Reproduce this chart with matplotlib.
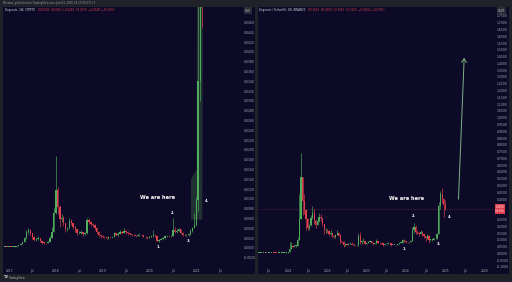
import matplotlib
matplotlib.use('Agg')
import matplotlib.pyplot as plt
from matplotlib.patches import Rectangle
from matplotlib.transforms import blended_transform_factory
import pandas as pd

W, H = 512, 282

# Left: Dogecoin 2016-2021 cycle, semi-monthly candles (close / high / low)
left_start = '2016-11-01'
left_open0 = 0.00022
left_close = [
    0.00023, 0.00022, 0.00022, 0.00021,
    0.00022, 0.00021, 0.00024, 0.00029, 0.00040, 0.00055, 0.00085, 0.00120, 0.00195, 0.00320, 0.00370, 0.00300,
    0.00220, 0.00170, 0.00180, 0.00200, 0.00150, 0.00110, 0.00100, 0.00095, 0.00130, 0.00210, 0.00330, 0.00720,
    0.01180, 0.00840, 0.00600, 0.00620, 0.00500, 0.00380, 0.00400, 0.00560, 0.00520, 0.00420, 0.00380, 0.00300,
    0.00310, 0.00320, 0.00280, 0.00300, 0.00580, 0.00540, 0.00490, 0.00460, 0.00400, 0.00330, 0.00260, 0.00240,
    0.00230, 0.00220, 0.00210, 0.00220, 0.00215, 0.00220, 0.00300, 0.00270, 0.00290, 0.00320, 0.00310, 0.00350,
    0.00320, 0.00300, 0.00280, 0.00270, 0.00260, 0.00250, 0.00260, 0.00270, 0.00260, 0.00230, 0.00220, 0.00210,
    0.00230, 0.00240, 0.00270, 0.00240, 0.00140, 0.00170, 0.00190, 0.00200, 0.00240, 0.00250, 0.00240, 0.00250,
    0.00370, 0.00330, 0.00350, 0.00380, 0.00310, 0.00270, 0.00260, 0.00260, 0.00280, 0.00340, 0.00410, 0.00470,
    0.00980, 0.03400, 0.06000, 0.05000,
]
left_high = [
    0.00025, 0.00024, 0.00023, 0.00023,
    0.00024, 0.00023, 0.00026, 0.00032, 0.00048, 0.00070, 0.00110, 0.00150, 0.00230, 0.00360, 0.00410, 0.00380,
    0.00310, 0.00240, 0.00210, 0.00240, 0.00210, 0.00160, 0.00120, 0.00110, 0.00150, 0.00240, 0.00420, 0.00820,
    0.01880, 0.01250, 0.00880, 0.00700, 0.00650, 0.00520, 0.00430, 0.00620, 0.00600, 0.00520, 0.00440, 0.00390,
    0.00340, 0.00360, 0.00330, 0.00330, 0.00620, 0.00610, 0.00560, 0.00500, 0.00480, 0.00420, 0.00340, 0.00290,
    0.00260, 0.00250, 0.00230, 0.00240, 0.00235, 0.00240, 0.00330, 0.00310, 0.00320, 0.00360, 0.00340, 0.00410,
    0.00370, 0.00340, 0.00310, 0.00290, 0.00280, 0.00270, 0.00280, 0.00300, 0.00290, 0.00270, 0.00240, 0.00230,
    0.00250, 0.00260, 0.00370, 0.00290, 0.00250, 0.00190, 0.00210, 0.00220, 0.00270, 0.00270, 0.00260, 0.00270,
    0.00620, 0.00420, 0.00380, 0.00400, 0.00380, 0.00320, 0.00280, 0.00280, 0.00300, 0.00380, 0.00430, 0.00720,
    0.01050, 0.08700, 0.08700, 0.07000,
]
left_low = [
    0.00021, 0.00021, 0.00020, 0.00020,
    0.00020, 0.00020, 0.00021, 0.00024, 0.00029, 0.00038, 0.00052, 0.00080, 0.00115, 0.00190, 0.00280, 0.00250,
    0.00190, 0.00140, 0.00150, 0.00165, 0.00120, 0.00090, 0.00085, 0.00080, 0.00092, 0.00125, 0.00200, 0.00320,
    0.00700, 0.00700, 0.00420, 0.00540, 0.00440, 0.00320, 0.00340, 0.00390, 0.00460, 0.00390, 0.00330, 0.00270,
    0.00280, 0.00290, 0.00250, 0.00260, 0.00290, 0.00480, 0.00440, 0.00420, 0.00360, 0.00290, 0.00220, 0.00210,
    0.00200, 0.00200, 0.00190, 0.00190, 0.00200, 0.00200, 0.00220, 0.00250, 0.00250, 0.00280, 0.00290, 0.00300,
    0.00280, 0.00270, 0.00260, 0.00250, 0.00240, 0.00230, 0.00240, 0.00250, 0.00240, 0.00220, 0.00200, 0.00190,
    0.00200, 0.00220, 0.00230, 0.00220, 0.00120, 0.00130, 0.00160, 0.00180, 0.00190, 0.00230, 0.00220, 0.00230,
    0.00240, 0.00300, 0.00310, 0.00330, 0.00280, 0.00250, 0.00240, 0.00240, 0.00250, 0.00270, 0.00320, 0.00400,
    0.00450, 0.00750, 0.03000, 0.04500,
]

# Right: Dogecoin / TetherUS 2020-2025, semi-monthly candles
right_start = '2020-04-01'
right_open0 = 0.0018
right_close = [
    0.0020, 0.0022, 0.0025, 0.0025, 0.0025, 0.0024, 0.0032, 0.0034, 0.0035,
    0.0033, 0.0028, 0.0026, 0.0026, 0.0026, 0.0028, 0.0034, 0.0040, 0.0047,
    0.0098, 0.0340, 0.0580, 0.0500, 0.0550, 0.0560, 0.1000, 0.2500, 0.5650, 0.3850, 0.3200, 0.2500,
    0.1900, 0.2100, 0.2600, 0.3000, 0.2400, 0.2100, 0.2400, 0.2700, 0.2600, 0.2200, 0.1700, 0.1700,
    0.1650, 0.1400, 0.1500, 0.1300, 0.1200, 0.1350, 0.1500, 0.1300, 0.0900, 0.0850, 0.0650, 0.0670,
    0.0650, 0.0700, 0.0720, 0.0650, 0.0620, 0.0600, 0.0600, 0.1250, 0.0850, 0.0900, 0.0950, 0.0700,
    0.0750, 0.0850, 0.0900, 0.0800, 0.0700, 0.0740, 0.0900, 0.0800, 0.0750, 0.0730, 0.0620, 0.0670,
    0.0680, 0.0760, 0.0730, 0.0630, 0.0620, 0.0620, 0.0600, 0.0680, 0.0780, 0.0800, 0.0980, 0.0900,
    0.0820, 0.0810, 0.0820, 0.0900, 0.1750, 0.1950, 0.1600, 0.1500, 0.1450, 0.1600, 0.1400, 0.1250,
    0.1100, 0.1300, 0.1000, 0.1000, 0.1000, 0.1100, 0.1100, 0.1400, 0.3500, 0.4400, 0.4000, 0.3600,
    0.3250,
]
right_high = [
    0.0022, 0.0024, 0.0027, 0.0027, 0.0026, 0.0026, 0.0052, 0.0040, 0.0038,
    0.0037, 0.0034, 0.0029, 0.0028, 0.0027, 0.0030, 0.0038, 0.0043, 0.0072,
    0.0105, 0.0870, 0.0870, 0.0620, 0.0620, 0.0640, 0.1200, 0.4400, 0.7370, 0.5650, 0.4400, 0.3300,
    0.2600, 0.2200, 0.2800, 0.3500, 0.3300, 0.2500, 0.2600, 0.3000, 0.2900, 0.2500, 0.2200, 0.1900,
    0.1800, 0.1750, 0.1700, 0.1500, 0.1350, 0.1450, 0.1700, 0.1550, 0.1400, 0.0950, 0.0900, 0.0750,
    0.0720, 0.0750, 0.0800, 0.0820, 0.0680, 0.0650, 0.0640, 0.1530, 0.1550, 0.1000, 0.1100, 0.0950,
    0.0800, 0.0900, 0.0970, 0.0900, 0.0820, 0.0780, 0.1050, 0.0920, 0.0810, 0.0760, 0.0740, 0.0700,
    0.0720, 0.0820, 0.0790, 0.0740, 0.0650, 0.0650, 0.0640, 0.0720, 0.0800, 0.0840, 0.1070, 0.1000,
    0.0920, 0.0850, 0.0860, 0.0960, 0.1950, 0.2250, 0.2100, 0.1700, 0.1600, 0.1750, 0.1650, 0.1450,
    0.1250, 0.1450, 0.1350, 0.1080, 0.1050, 0.1150, 0.1200, 0.1500, 0.3800, 0.4600, 0.4800, 0.4100,
    0.3950,
]
right_low = [
    0.0018, 0.0019, 0.0021, 0.0023, 0.0023, 0.0023, 0.0024, 0.0030, 0.0031,
    0.0030, 0.0026, 0.0025, 0.0025, 0.0025, 0.0025, 0.0027, 0.0032, 0.0040,
    0.0045, 0.0075, 0.0300, 0.0450, 0.0460, 0.0500, 0.0560, 0.1000, 0.2500, 0.2800, 0.2900, 0.1700,
    0.1750, 0.1700, 0.2000, 0.2500, 0.2200, 0.1900, 0.2100, 0.2300, 0.2400, 0.2000, 0.1400, 0.1500,
    0.1500, 0.1250, 0.1350, 0.1200, 0.1100, 0.1150, 0.1350, 0.1250, 0.0700, 0.0780, 0.0500, 0.0550,
    0.0600, 0.0620, 0.0680, 0.0600, 0.0580, 0.0570, 0.0570, 0.0580, 0.0700, 0.0720, 0.0850, 0.0680,
    0.0680, 0.0740, 0.0820, 0.0760, 0.0640, 0.0680, 0.0720, 0.0760, 0.0700, 0.0700, 0.0570, 0.0590,
    0.0640, 0.0680, 0.0690, 0.0580, 0.0590, 0.0600, 0.0580, 0.0590, 0.0670, 0.0740, 0.0790, 0.0860,
    0.0760, 0.0750, 0.0780, 0.0820, 0.0900, 0.1500, 0.1400, 0.1400, 0.1300, 0.1450, 0.1300, 0.1150,
    0.0900, 0.1080, 0.0800, 0.0950, 0.0920, 0.0980, 0.1050, 0.1080, 0.1400, 0.3300, 0.3700, 0.2650,
    0.3200,
]

# annotations (data coordinates)
left_marks = ['1.', '2.', '3.', '4.']
left_mark_dates = ['2020-03-08', '2020-07-03', '2020-11-05', '2021-03-25']
left_mark_vals = [0.0002, 0.0071, 0.0014, 0.0096]
left_note = ('2020-03-01', 0.0104)
left_glow_dates = ['2020-11-20', '2021-02-16', '2021-02-22', '2021-01-06', '2021-01-03', '2020-11-20']
left_glow_vals = [0.0058, 0.0058, 0.06, 0.06, 0.016, 0.0140]

right_marks = ['1.', '2.', '3.', '4.']
right_mark_dates = ['2023-12-22', '2024-03-15', '2024-11-03', '2025-02-14']
right_mark_vals = [0.032, 0.276, 0.069, 0.268]
right_note = ('2024-01-10', 0.408)
arrow_from = ('2025-05-01', 0.379)
arrow_to = ('2025-06-25', 1.462)

left_yticks = [round(-0.002 + 0.002 * i, 4) for i in range(25)]
right_yticks = [round(-0.10 + 0.05 * i, 2) for i in range(38)]

GREEN = '#4fae5c'
RED = '#e0404e'
NAVY = '#0c0a26'
GRAY = '#202129'
TXT = '#a9acb6'


def fig_rect(x0, y0, x1, y1):
    return [x0 / W, 1 - y1 / H, (x1 - x0) / W, (y1 - y0) / H]


def candles(ax, start, open0, close, high, low, min_h):
    dates = pd.date_range(start, periods=len(close), freq='SMS')
    opens = [open0] + close[:-1]
    cols = [GREEN if c >= o else RED for o, c in zip(opens, close)]
    bottoms = [min(o, c) for o, c in zip(opens, close)]
    heights = [max(abs(c - o), min_h) for o, c in zip(opens, close)]
    ax.vlines(dates, low, high, colors=cols, lw=0.45, zorder=3)
    ax.bar(dates, heights, bottom=bottoms, width=11, color=cols, lw=0, zorder=4)
    return dates


def style(ax, xlim, ylim, yticks, ylabels, ticks, labels):
    ax.set_facecolor(NAVY)
    ax.set_xlim(pd.Timestamp(xlim[0]), pd.Timestamp(xlim[1]))
    ax.set_ylim(*ylim)
    for s in ax.spines.values():
        s.set_visible(False)
    ax.yaxis.tick_right()
    ax.set_yticks(yticks)
    ax.set_yticklabels(ylabels)
    ax.set_xticks([pd.Timestamp(t) for t in ticks])
    ax.set_xticklabels(labels)
    ax.tick_params(axis='y', length=0, pad=2.2, labelsize=2.2, labelcolor=TXT)
    ax.tick_params(axis='x', length=0, pad=1.6, labelsize=2.2, labelcolor=TXT)


def legend(fig, ax, title, values):
    # title in light text, OHLC values in red right after it
    t = ax.text(0.005, 0.988, title, transform=ax.transAxes, fontsize=1.9, color='#d1d4dc', va='center')
    fig.canvas.draw()
    bb = t.get_window_extent()
    x = ax.transAxes.inverted().transform((bb.x1 + 3, bb.y0))[0]
    ax.text(x, 0.988, values, transform=ax.transAxes, fontsize=1.9, color=RED, va='center')


fig = plt.figure(figsize=(W / 100, H / 100), dpi=100)
fig.patch.set_facecolor(GRAY)

# panel backgrounds
for x0, x1 in [(3, 255), (258, 509)]:
    r = fig_rect(x0, 7, x1, 274)
    fig.add_artist(Rectangle((r[0], r[1]), r[2], r[3], transform=fig.transFigure,
                             facecolor=NAVY, edgecolor='none', zorder=0))

fig.text(3 / W, 1 - 3 / H, 'Bitcoinz_published on TradingView.com, Jan 03, 2025 18:27:09 UTC+1',
         fontsize=1.9, color='#9a9ca5', va='center')
fig.text(4 / W, 1 - 277.5 / H, 'TV', fontsize=2.4, color='#d0d2d8', va='center', weight='bold')
fig.text(9 / W, 1 - 277.5 / H, 'TradingView', fontsize=2.0, color='#b0b2ba', va='center')

# ---- left panel ----
axl = fig.add_axes(fig_rect(4, 7, 241, 267))
axl.fill(pd.to_datetime(left_glow_dates), left_glow_vals, color='#37583f', alpha=0.5, lw=0, zorder=2)
candles(axl, left_start, left_open0, left_close, left_high, left_low, 0.00012)
style(axl, ('2016-11-22', '2021-12-15'), (-0.00388, 0.04918), left_yticks,
      [f'{v:.4f}' for v in left_yticks],
      ['2017-01-01', '2017-07-01', '2018-01-01', '2018-07-01', '2019-01-01', '2019-07-01',
       '2020-01-01', '2020-07-01', '2021-01-01', '2021-07-01'],
      ['2017', 'Jul', '2018', 'Jul', '2019', 'Jul', '2020', 'Jul', '2021', 'Jul'])
for m, d, v in zip(left_marks, left_mark_dates, left_mark_vals):
    axl.text(pd.Timestamp(d), v, m, fontsize=2.6, color='white', ha='center', va='center', weight='bold')
axl.text(pd.Timestamp(left_note[0]), left_note[1], 'We are here', fontsize=3.7, color='white',
         ha='center', va='center', weight='bold')
legend(fig, axl, 'Dogecoin, 1W, CRYPTO',
       'O0.0318  H0.0363  L0.0269  C0.0270  \u22120.0049 (\u221215.36%)')
fig.text(248 / W, 1 - 10.5 / H, 'USD', fontsize=1.9, color='#d1d4dc', ha='center', va='center',
         bbox=dict(boxstyle='square,pad=0.4', facecolor='#2a2d38', edgecolor='none'))

# ---- right panel ----
axr = fig.add_axes(fig_rect(258, 7, 494, 267))
candles(axr, right_start, right_open0, right_close, right_high, right_low, 0.005)
last = right_close[-1]
# labels hidden behind the last-price tag, as the platform does
right_labels = ['' if abs(v - last) < 0.04 else f'{v:.4f}' for v in right_yticks]
style(axr, ('2020-03-27', '2026-03-28'), (-0.1002, 1.8158), right_yticks, right_labels,
      ['2020-07-01', '2021-01-01', '2021-07-01', '2022-01-01', '2022-07-01', '2023-01-01',
       '2023-07-01', '2024-01-01', '2024-07-01', '2025-01-01', '2025-07-01', '2026-01-01'],
      ['Jul', '2021', 'Jul', '2022', 'Jul', '2023', 'Jul', '2024', 'Jul', '2025', 'Jul', '2026'])
axr.axhline(last, color=RED, lw=0.4, ls=(0, (1, 1.5)), alpha=0.7, zorder=1)
tr = blended_transform_factory(axr.transAxes, axr.transData)
axr.text(1.006, last, f'{last:.4f}\n2d 05h', transform=tr, fontsize=1.8, color='white',
         va='center', ha='left', linespacing=1.1,
         bbox=dict(boxstyle='square,pad=0.35', facecolor=RED, edgecolor='none'))
for m, d, v in zip(right_marks, right_mark_dates, right_mark_vals):
    axr.text(pd.Timestamp(d), v, m, fontsize=2.6, color='white', ha='center', va='center', weight='bold')
axr.text(pd.Timestamp(right_note[0]), right_note[1], 'We are here', fontsize=3.7, color='white',
         ha='center', va='center', weight='bold')
axr.annotate('', xy=(pd.Timestamp(arrow_to[0]), arrow_to[1]),
             xytext=(pd.Timestamp(arrow_from[0]), arrow_from[1]),
             arrowprops=dict(arrowstyle='->,head_length=0.45,head_width=0.3', color='#7fb087',
                             lw=0.7, mutation_scale=6))
legend(fig, axr, 'Dogecoin / TetherUS, 1W, BINANCE',
       'O0.3614  H0.4005  L0.3195  C0.3250  \u22120.0364 (\u221210.07%)')
fig.text(501.5 / W, 1 - 10.5 / H, 'USDT', fontsize=1.9, color='#d1d4dc', ha='center', va='center',
         bbox=dict(boxstyle='square,pad=0.4', facecolor='#2a2d38', edgecolor='none'))

fig.savefig('out.png', dpi=100, facecolor=GRAY)
